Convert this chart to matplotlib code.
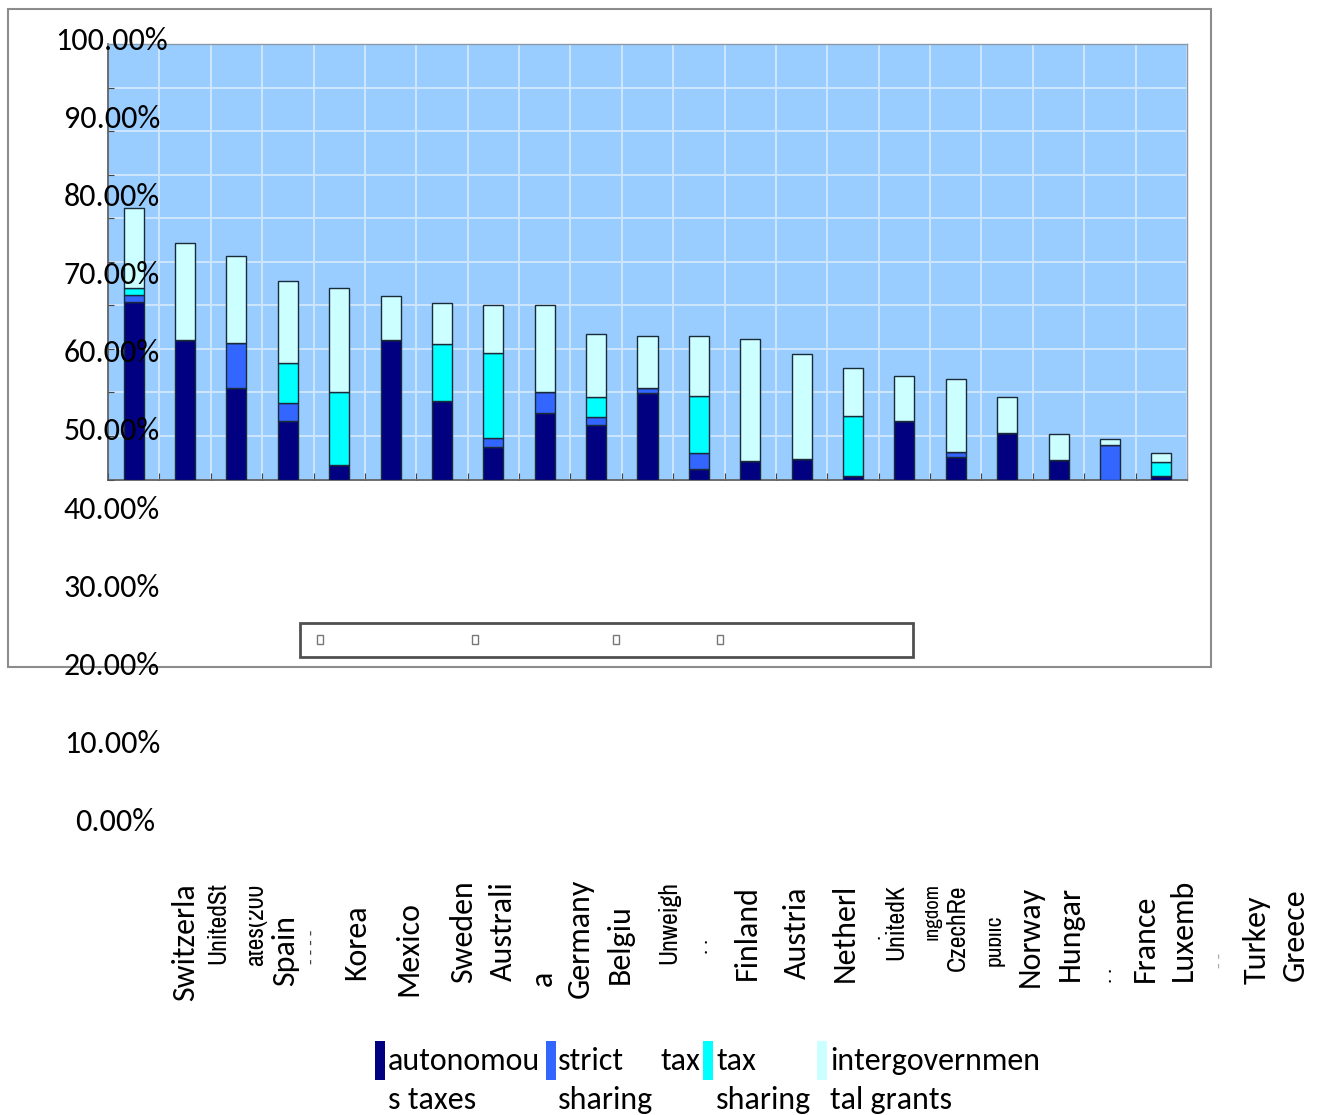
import matplotlib
matplotlib.use("Agg")
import matplotlib.pyplot as plt
import numpy as np
from matplotlib.patches import Rectangle
from matplotlib.transforms import Bbox

# stacked shares (% of sub-central revenue)
autonomous = [40.8, 32.0, 21.1, 13.5, 3.3, 32.0, 18.0, 7.5, 15.3, 12.5, 19.8,
              2.3, 4.2, 4.7, 0.9, 13.4, 5.2, 10.7, 4.5, 0.0, 0.9]
strict_sharing = [1.6, 0.0, 10.2, 4.0, 0.0, 0.0, 0.0, 2.0, 4.9, 1.9, 1.1,
                  3.7, 0.0, 0.0, 0.0, 0.0, 1.2, 0.0, 0.0, 7.9, 0.0]
tax_sharing = [1.5, 0.0, 0.0, 9.2, 16.9, 0.0, 13.1, 19.5, 0.0, 4.5, 0.0,
               13.2, 0.0, 0.0, 13.7, 0.0, 0.0, 0.0, 0.0, 0.0, 3.2]
grants = [18.5, 22.4, 20.1, 18.9, 23.7, 10.2, 9.4, 11.1, 19.9, 14.4, 12.0,
          13.7, 28.0, 24.1, 11.1, 10.4, 16.7, 8.2, 5.9, 1.4, 1.9]

series = [autonomous, strict_sharing, tax_sharing, grants]
colors = ["#000080", "#3366FF", "#00FFFF", "#CCFFFF"]

y_ticks = [100, 90, 80, 70, 60, 50, 40, 30, 20, 10, 0]

# broken category labels as they appear
cat_labels = ["Switzerla", "UnitedSt", "ates(200", "Spain", "- - - -", "Korea", "Mexico",
              "Sweden", "Australi", "a", "Germany", "Belgiu", "Unweigh", ". .",
              "Finland", "Austria", "Netherl", ".", "UnitedK", "ingdom", "CzechRe",
              "public", "Norway", "Hungar", ". .", "France", "Luxemb", "- -",
              "Turkey", "Greece"]

W, H = 1324, 1115
fig = plt.figure(figsize=(W / 100, H / 100), dpi=100)
font = ["Carlito", "Open Sans", "DejaVu Sans"]
narrow = ["Archivo Narrow", "Liberation Sans Narrow", "Open Sans", "DejaVu Sans"]
FS = 23
NS = 18.5


def fx(x):
    return x / W


def fy(y):
    return 1 - y / H


# outer chart frame
fig.add_artist(Rectangle((fx(8), fy(667)), fx(1211) - fx(8), fy(9) - fy(667),
                         transform=fig.transFigure, facecolor="white",
                         edgecolor="#8c8c8c", lw=1.5, zorder=0))

ax = fig.add_axes([fx(108), fy(479.5), fx(1187) - fx(108), fy(44) - fy(479.5)], zorder=1)
ax.set_facecolor("#99CCFF")
n = len(autonomous)
x = np.arange(n)
bottom = np.zeros(n)
for vals, c in zip(series, colors):
    ax.bar(x, vals, width=0.39, bottom=bottom, color=c, edgecolor="#1b2a3a",
           lw=1.0, zorder=3)
    bottom += np.array(vals)

ax.set_xlim(-0.5, n - 0.5)
ax.set_ylim(0, 100)
ax.set_yticks(np.arange(0, 101, 10))
ax.set_xticks(np.arange(n + 1) - 0.5)
ax.grid(True, color="#cfe6fc", lw=1.4, zorder=0)
ax.tick_params(axis="x", direction="in", length=5, color="#444444", labelbottom=False)
ax.tick_params(axis="y", direction="in", length=4, color="#444444", labelleft=False)
for s in ["left", "bottom"]:
    ax.spines[s].set_color("#555555")
    ax.spines[s].set_linewidth(1.2)
for s in ["top", "right"]:
    ax.spines[s].set_color("#8899aa")
    ax.spines[s].set_linewidth(1.0)

# stray y tick labels (drawn off-scale, as in the source)
for t in y_ticks:
    ypx = 822 - t * 7.81
    xr = 168 if t == 100 else (155 if t == 0 else 160)
    fig.text(fx(xr), fy(ypx), f"{t:.2f}%", ha="right", va="center",
             fontsize=FS, family=font, color="black", zorder=5)

# empty legend box inside the frame
fig.add_artist(Rectangle((fx(300), fy(657)), fx(913) - fx(300), fy(623) - fy(657),
                         transform=fig.transFigure, facecolor="white",
                         edgecolor="#505050", lw=2, zorder=2))
for bx in [320, 475, 616, 720]:
    fig.add_artist(Rectangle((fx(bx - 3), fy(644)), 6 / W, 9 / H,
                             transform=fig.transFigure, facecolor="white",
                             edgecolor="#777777", lw=1, zorder=3))

# category labels: x, y centre (px), family, size, colour, left clip (px)
lab_pos = [(185, 942, font, FS, "black", None),
           (218, 923, narrow, NS, "black", None),
           (256, 925, narrow, NS, "black", 249),
           (285, 951, font, FS, "black", None),
           (312, 947, font, 13, "#444444", None),
           (356, 942, font, FS, "black", None),
           (408, 949, font, FS, "black", None),
           (463, 932, font, FS, "black", None),
           (503, 931, font, FS, "black", None),
           (543, 978, font, FS, "black", 536),
           (580, 938, font, FS, "black", None),
           (620, 944, font, FS, "black", None),
           (669, 923, narrow, NS, "black", None),
           (703, 946, font, 15, "black", None),
           (747, 933, font, FS, "black", None),
           (797, 933, font, FS, "black", None),
           (845, 933, font, FS, "black", None),
           (874, 936, font, 15, "black", None),
           (896, 922, narrow, NS, "black", None),
           (932, 911, narrow, 15, "black", 925),
           (957, 928, narrow, NS, "black", None),
           (994, 940, narrow, 17, "black", 989),
           (1030, 936, font, FS, "black", None),
           (1070, 933, font, FS, "black", None),
           (1106, 975, font, 15, "black", None),
           (1145, 938, font, FS, "black", None),
           (1183, 930, font, FS, "black", None),
           (1220, 960, font, 13, "#aaaaaa", None),
           (1257, 940, font, FS, "black", None),
           (1295, 935, font, FS, "black", None)]

for s, (lx, ly, fam, fs, col, clip) in zip(cat_labels, lab_pos):
    t = fig.text(fx(lx), fy(ly), s, rotation=90, ha="center", va="center",
                 family=fam, fontsize=fs, color=col, zorder=5)
    if clip is not None:
        t.set_clip_box(Bbox.from_extents(clip, 0, W, H))
        t.set_clip_on(True)

# legend entries at the bottom, wrapped and cut as in the source
leg_patch_x = [375, 546, 703, 817]
leg_lines = [("autonomou", "s taxes", 388),
             ("strict", "sharing", 558),
             ("tax", "sharing", 716),
             ("intergovernmen", "tal grants", 830)]
for px, c, (l1, l2, tx) in zip(leg_patch_x, colors, leg_lines):
    fig.add_artist(Rectangle((fx(px), fy(1080)), 10 / W, 39 / H,
                             transform=fig.transFigure, facecolor=c,
                             edgecolor="none", zorder=4))
    fig.text(fx(tx), fy(1061), l1, ha="left", va="center", family=font,
             fontsize=FS, zorder=5)
    fig.text(fx(tx), fy(1100), l2, ha="left", va="center", family=font,
             fontsize=FS, zorder=5)
fig.text(fx(700), fy(1061), "tax", ha="right", va="center", family=font,
         fontsize=FS, zorder=5)

fig.savefig("out.png", dpi=100)
